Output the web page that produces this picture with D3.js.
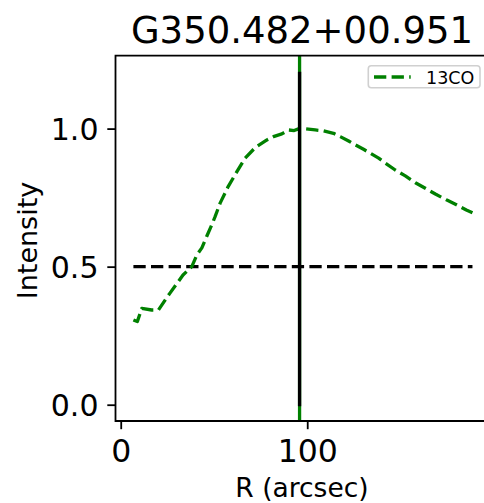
<!DOCTYPE html>
<html><head><meta charset="utf-8">
<script src="https://cdn.jsdelivr.net/npm/d3@7"></script>
<style>html,body{margin:0;padding:0;background:#fff;}svg{display:block;}text{font-family:"DejaVu Sans",sans-serif;}</style>
</head><body>
<svg id="c" width="484" height="503"></svg>
<script>
const R = [6.8,8.9,11.3,16.6,20.2,23.8,26.5,30.8,33.4,38.1,40.8,43.5,46.2,48.8,50.6,53.3,57.6,62.3,66.7,72.1,78.4,81.9,86.4,90.0,93.0,95.3,98.9,104.3,108.7,114.1,117.7,122.2,125.8,130.2,133.8,138.3,141.9,147.2,152.6,158.0,163.3,168.7,174.6,180.0,185.3,188.6];
const intensity = [0.307,0.301,0.349,0.343,0.343,0.379,0.405,0.445,0.470,0.500,0.542,0.568,0.611,0.651,0.681,0.730,0.790,0.844,0.893,0.931,0.959,0.971,0.981,0.995,0.993,0.999,0.999,0.995,0.992,0.983,0.971,0.955,0.941,0.925,0.911,0.893,0.875,0.850,0.829,0.804,0.784,0.763,0.742,0.724,0.705,0.695];
const xTicks = [0,100];
const yTicks = [0.0,0.5,1.0];
const peakR = 95.9;
const halfLevel = 0.5;
const title = "G350.482+00.951";
const seriesName = "13CO";

const svg = d3.select("#c");
const L = 115.5, Rt = 488.5, T = 55.7, B = 421;
const x = d3.scaleLinear().domain([-2.8, 197.2]).range([L, Rt]);
const y = d3.scaleLinear().domain([-0.059, 1.264]).range([B, T]);

svg.append("defs").append("clipPath").attr("id","clip").append("rect")
  .attr("x",L).attr("y",T).attr("width",Rt-L).attr("height",B-T);
const g = svg.append("g").attr("clip-path","url(#clip)");

g.append("line").attr("x1",x(peakR)).attr("x2",x(peakR)).attr("y1",T).attr("y2",B)
  .attr("stroke","#008000").attr("stroke-width",3.3);
g.append("line").attr("x1",x(R[0])).attr("x2",x(R[R.length-1])).attr("y1",y(halfLevel)).attr("y2",y(halfLevel))
  .attr("stroke","#000").attr("stroke-width",3.3).attr("stroke-dasharray","12.3,5.3");
const line = d3.line().x((d,i)=>x(R[i])).y(d=>y(d));
g.append("path").datum(intensity).attr("d",line).attr("fill","none")
  .attr("stroke","#008000").attr("stroke-width",3.3).attr("stroke-dasharray","12.3,5.3").attr("stroke-linejoin","round");
g.append("line").attr("x1",x(peakR)).attr("x2",x(peakR)).attr("y1",y(0)).attr("y2",y(1.2))
  .attr("stroke","#000").attr("stroke-width",3.3).attr("stroke-linecap","square");

const sp = svg.append("g").attr("stroke","#000").attr("stroke-width",1.8).attr("fill","none");
sp.append("path").attr("d",`M${Rt},${T}H${L}V${B}H${Rt}`).attr("stroke-linecap","square");

const xa = svg.append("g").attr("transform",`translate(0,${B})`)
  .call(d3.axisBottom(x).tickValues(xTicks).tickFormat(d3.format("d")).tickSize(8.2));
const ya = svg.append("g").attr("transform",`translate(${L},0)`)
  .call(d3.axisLeft(y).tickValues(yTicks).tickFormat(d3.format(".1f")).tickSize(8.2));
[xa,ya].forEach(a=>{a.select(".domain").remove();a.selectAll(".tick line").attr("stroke","#000").attr("stroke-width",1.8);
  a.selectAll(".tick text").attr("fill","#000").attr("dy",null).style("font-family","DejaVu Sans");});
xa.selectAll(".tick text").attr("y",462.3-B).style("font-size","31.5px");
ya.selectAll(".tick text").attr("y",11.2).attr("x",-17).style("font-size","30px");

svg.append("text").attr("x",(L+Rt)/2).attr("y",497.3).attr("text-anchor","middle").style("font-size","26.5px").text("R (arcsec)");
svg.append("text").attr("transform",`translate(36.5,240.5) rotate(-90)`).attr("text-anchor","middle").style("font-size","27px").text("Intensity");
svg.append("text").attr("x",(L+Rt)/2).attr("y",43.3).attr("text-anchor","middle").style("font-size","37px").text(title);

const lg = svg.append("g");
lg.append("rect").attr("x",368.3).attr("y",65.7).attr("width",111.7).attr("height",22).attr("rx",3)
  .attr("fill","#fff").attr("fill-opacity",0.8).attr("stroke","#d0d0d0").attr("stroke-width",1.6);
lg.append("line").attr("x1",374).attr("x2",410.7).attr("y1",77).attr("y2",77)
  .attr("stroke","#008000").attr("stroke-width",3.3).attr("stroke-dasharray","12.3,5.3");
lg.append("text").attr("x",426).attr("y",83.5).style("font-size","17.5px").text(seriesName);
</script>
</body></html>
